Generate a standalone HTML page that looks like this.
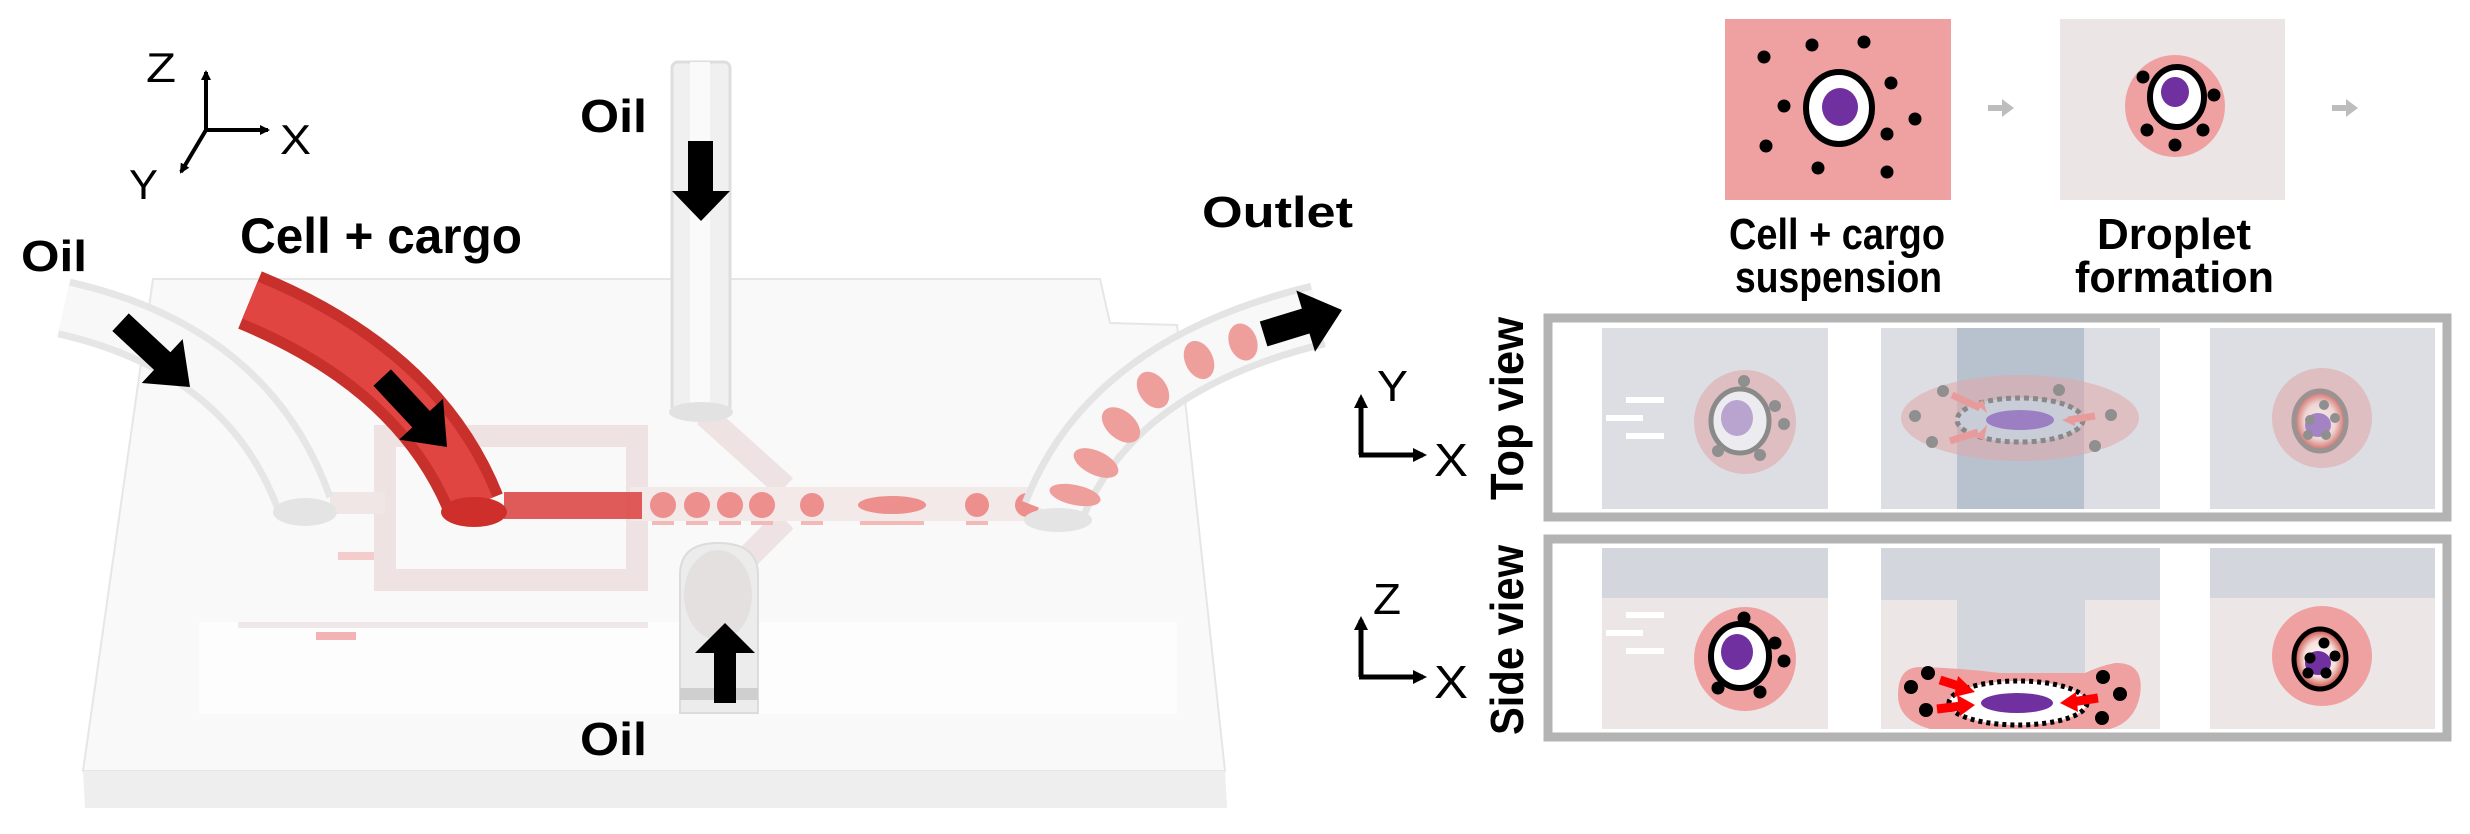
<!DOCTYPE html>
<html><head><meta charset="utf-8"><style>
html,body{margin:0;padding:0;background:#fff;}
svg{display:block;}
text{font-family:"Liberation Sans",sans-serif;font-weight:bold;fill:#000;}
.r{font-weight:normal;}
</style></head><body>
<svg width="2470" height="834" viewBox="0 0 2470 834" xmlns="http://www.w3.org/2000/svg">
<defs>
<marker id="ah" markerWidth="10" markerHeight="10" refX="8" refY="5" orient="auto" markerUnits="userSpaceOnUse"><path d="M0,0 L10,5 L0,10 z" fill="#000"/></marker>
<marker id="ah2" markerWidth="14" markerHeight="14" refX="10" refY="7" orient="auto" markerUnits="userSpaceOnUse"><path d="M0,0 L14,7 L0,14 z" fill="#000"/></marker>
<radialGradient id="rg"><stop offset="0" stop-color="#fff"/><stop offset="0.6" stop-color="#f7e0dc"/><stop offset="1" stop-color="#c9443a"/></radialGradient>
</defs>

<!-- ===== LEFT: chip ===== -->
<path d="M153,279 L1100,279 L1110,323 L1177,325 L1225,771 L83,771 Z" fill="#f9f9f9" stroke="#e6e6e6" stroke-width="2"/>
<path d="M83,771 L1225,771 L1227,808 L85,808 Z" fill="#eeeeee"/>
<rect x="199" y="622" width="978" height="92" fill="#fdfdfd"/>
<rect x="238" y="622" width="410" height="6" fill="#f0e8e8"/>
<rect x="316" y="632" width="40" height="8" fill="#f1b3b3"/>
<rect x="338" y="552" width="40" height="8" fill="#f3c0c0" opacity="0.8"/>

<rect x="385" y="436" width="252" height="144" fill="none" stroke="#efe2e2" stroke-width="22"/>
<rect x="330" y="492" width="55" height="22" fill="#f1e6e6"/>
<path d="M705,415 L785,487" stroke="#eee2e2" stroke-width="24"/>
<path d="M785,520 L735,570" stroke="#eee2e2" stroke-width="24"/>
<rect x="630" y="487" width="420" height="34" fill="#f3e9e9"/>
<rect x="504" y="492" width="138" height="27" fill="#d9403d" opacity="0.85"/>
<g fill="#ec8f8d">
<circle cx="663" cy="505" r="13"/><circle cx="697" cy="505" r="13"/><circle cx="730" cy="505" r="13"/><circle cx="762" cy="505" r="13"/>
<circle cx="812" cy="505" r="12"/><ellipse cx="892" cy="505" rx="34" ry="9"/><circle cx="977" cy="505" r="12"/><circle cx="1027" cy="505" r="12"/>
</g>
<g fill="#f2b9b7">
<rect x="652" y="521" width="22" height="4"/><rect x="686" y="521" width="22" height="4"/><rect x="719" y="521" width="22" height="4"/><rect x="751" y="521" width="22" height="4"/><rect x="801" y="521" width="22" height="4"/><rect x="860" y="521" width="64" height="4"/><rect x="966" y="521" width="22" height="4"/>
</g>

<path d="M64,308 Q250,350 305,506" fill="none" stroke="#e6e6e6" stroke-width="60"/>
<path d="M64,308 Q250,350 305,506" fill="none" stroke="#f8f8f8" stroke-width="46"/>
<ellipse cx="305" cy="512" rx="32" ry="14" fill="#e4e4e4"/>
<path d="M250,300 Q420,370 474,505" fill="none" stroke="#c8302c" stroke-width="62"/>
<path d="M250,300 Q420,370 474,505" fill="none" stroke="#e04542" stroke-width="40"/>
<ellipse cx="474" cy="512" rx="33" ry="15" fill="#cf2f2b"/>

<rect x="672" y="62" width="58" height="350" rx="6" fill="#f0f0f0" stroke="#dedede" stroke-width="3"/>
<rect x="690" y="62" width="20" height="350" fill="#fafafa"/>
<ellipse cx="701" cy="412" rx="32" ry="10" fill="#e2e2e2"/>
<path d="M680,713 L680,575 Q680,543 718,543 Q758,543 758,575 L758,713 Z" fill="#ececec" stroke="#dcdcdc" stroke-width="2"/>
<ellipse cx="718" cy="595" rx="34" ry="45" fill="#e4e0e0"/>
<rect x="680" y="688" width="78" height="12" fill="#cfcfcf"/>

<path d="M1053,513 Q1110,365 1318,315" fill="none" stroke="#e4e4e4" stroke-width="66"/>
<path d="M1053,513 Q1110,365 1318,315" fill="none" stroke="#f8f8f8" stroke-width="52"/>
<g fill="#ee9f9c">
<ellipse cx="1243" cy="342" rx="14" ry="19" transform="rotate(-20 1243 342)"/>
<ellipse cx="1199" cy="360" rx="14" ry="20" transform="rotate(-25 1199 360)"/>
<ellipse cx="1153" cy="390" rx="14" ry="20" transform="rotate(-35 1153 390)"/>
<ellipse cx="1121" cy="425" rx="14" ry="22" transform="rotate(-50 1121 425)"/>
<ellipse cx="1096" cy="463" rx="12" ry="24" transform="rotate(-65 1096 463)"/>
<ellipse cx="1075" cy="495" rx="10" ry="26" transform="rotate(-78 1075 495)"/>
</g>
<ellipse cx="1058" cy="520" rx="34" ry="12" fill="#e4e4e4"/>

<polygon points="688,141 713,141 713,191 730,191 701,221 672,191 688,191" fill="#000"/>
<polygon points="714,703 736,703 736,653 755,653 725,623 695,653 714,653" fill="#000"/>
<g transform="translate(190,387) rotate(43)"><polygon points="0,0 -38,-30 -38,-12 -95,-12 -95,12 -38,12 -38,30" fill="#000"/></g>
<g transform="translate(447,447) rotate(47)"><polygon points="0,0 -38,-30 -38,-12 -95,-12 -95,12 -38,12 -38,30" fill="#000"/></g>
<g transform="translate(1342,310) rotate(-17)"><polygon points="0,0 -38,-32 -38,-13 -82,-13 -82,13 -38,13 -38,32" fill="#000"/></g>

<line x1="206" y1="130" x2="206" y2="72" stroke="#000" stroke-width="4" marker-end="url(#ah)"/>
<line x1="206" y1="130" x2="268" y2="130" stroke="#000" stroke-width="4" marker-end="url(#ah)"/>
<line x1="206" y1="130" x2="181" y2="172" stroke="#000" stroke-width="4" marker-end="url(#ah)"/>
<text class="r" x="146" y="82" font-size="42" textLength="30" lengthAdjust="spacingAndGlyphs">Z</text>
<text class="r" x="280" y="154" font-size="42" textLength="31" lengthAdjust="spacingAndGlyphs">X</text>
<text class="r" x="129" y="199" font-size="42" textLength="29" lengthAdjust="spacingAndGlyphs">Y</text>

<text x="21" y="271" font-size="44" textLength="66" lengthAdjust="spacingAndGlyphs">Oil</text>
<text x="240" y="253" font-size="50" textLength="282" lengthAdjust="spacingAndGlyphs">Cell + cargo</text>
<text x="580" y="132" font-size="46" textLength="67" lengthAdjust="spacingAndGlyphs">Oil</text>
<text x="580" y="755" font-size="46" textLength="67" lengthAdjust="spacingAndGlyphs">Oil</text>
<text x="1202" y="227" font-size="44" textLength="151" lengthAdjust="spacingAndGlyphs">Outlet</text>

<!-- ===== RIGHT ===== -->
<rect x="1725" y="19" width="226" height="181" fill="#eea1a0"/>
<ellipse cx="1839" cy="108" rx="33" ry="36" fill="#fff" stroke="#000" stroke-width="6"/>
<ellipse cx="1840" cy="107" rx="18" ry="19" fill="#7030a0"/>
<g fill="#000">
<circle cx="1764" cy="57" r="6.5"/><circle cx="1812" cy="45" r="6.5"/><circle cx="1864" cy="42" r="6.5"/><circle cx="1891" cy="83" r="6.5"/><circle cx="1784" cy="106" r="6.5"/><circle cx="1915" cy="119" r="6.5"/><circle cx="1887" cy="134" r="6.5"/><circle cx="1766" cy="146" r="6.5"/><circle cx="1818" cy="168" r="6.5"/><circle cx="1887" cy="172" r="6.5"/>
</g>
<rect x="2060" y="19" width="225" height="181" fill="#ece5e5"/>
<ellipse cx="2175" cy="106" rx="50" ry="51" fill="#eea1a0"/>
<ellipse cx="2177" cy="97" rx="27" ry="30" fill="#fff" stroke="#000" stroke-width="6"/>
<ellipse cx="2175" cy="92" rx="14" ry="15" fill="#7030a0"/>
<g fill="#000"><circle cx="2143" cy="77" r="6.5"/><circle cx="2214" cy="95" r="6.5"/><circle cx="2147" cy="130" r="6.5"/><circle cx="2203" cy="130" r="6.5"/><circle cx="2175" cy="145" r="6.5"/></g>

<g fill="#bdbdbd">
<polygon points="1988,105 2002,105 2002,99 2014,108 2002,117 2002,111 1988,111"/>
<polygon points="2332,105 2346,105 2346,99 2358,108 2346,117 2346,111 2332,111"/>
<polygon points="1841,418 1855,418 1855,412 1867,421 1855,430 1855,424 1841,424"/>
<polygon points="2174,418 2188,418 2188,412 2200,421 2188,430 2188,424 2174,424"/>
<polygon points="1841,635 1855,635 1855,629 1867,638 1855,647 1855,641 1841,641"/>
<polygon points="2174,635 2188,635 2188,629 2200,638 2188,647 2188,641 2174,641"/>
</g>

<text x="1729" y="249" font-size="44" textLength="216" lengthAdjust="spacingAndGlyphs">Cell + cargo</text>
<text x="1735" y="292" font-size="44" textLength="207" lengthAdjust="spacingAndGlyphs">suspension</text>
<text x="2097" y="249" font-size="44" textLength="154" lengthAdjust="spacingAndGlyphs">Droplet</text>
<text x="2075" y="292" font-size="44" textLength="199" lengthAdjust="spacingAndGlyphs">formation</text>

<rect x="1548" y="318" width="899" height="199" fill="#fff" stroke="#b3b3b3" stroke-width="9"/>
<rect x="1602" y="328" width="226" height="181" fill="#dcdee3"/>
<rect x="1881" y="328" width="279" height="181" fill="#dcdee3"/>
<rect x="1957" y="328" width="127" height="181" fill="#b8c2cf"/>
<rect x="2210" y="328" width="225" height="181" fill="#dcdee3"/>
<g stroke="#fff" stroke-width="6"><line x1="1626" y1="400" x2="1664" y2="400"/><line x1="1606" y1="418" x2="1643" y2="418"/><line x1="1626" y1="436" x2="1664" y2="436"/></g>
<ellipse cx="1745" cy="422" rx="51" ry="52" fill="#e0a8aa" opacity="0.6"/>
<ellipse cx="1740" cy="421" rx="29" ry="32" fill="#ececf0" stroke="#8a8a8a" stroke-width="5"/>
<ellipse cx="1737" cy="418" rx="16" ry="18" fill="#b9a3cf"/>
<g fill="#8f8f8f"><circle cx="1744" cy="381" r="6"/><circle cx="1775" cy="406" r="6"/><circle cx="1784" cy="424" r="6"/><circle cx="1718" cy="451" r="6"/><circle cx="1760" cy="455" r="6"/></g>
<ellipse cx="2020" cy="418" rx="119" ry="43" fill="#e0a8aa" opacity="0.55"/>
<ellipse cx="2020" cy="420" rx="63" ry="22" fill="#c9cdd8" stroke="#888" stroke-width="5" stroke-dasharray="5,4"/>
<ellipse cx="2020" cy="420" rx="34" ry="10" fill="#9b7fc2"/>
<g fill="#e79b9b"><polygon points="1976,404 1987,413 1983,400"/><polygon points="1975,437 1987,425 1984,440"/><polygon points="2062,420 2075,415 2075,426"/></g>
<g stroke="#e79b9b" stroke-width="7"><line x1="1952" y1="395" x2="1980" y2="408"/><line x1="1950" y1="441" x2="1978" y2="432"/><line x1="2068" y1="420" x2="2095" y2="416"/></g>
<g fill="#8f8f8f"><circle cx="1943" cy="391" r="6"/><circle cx="1915" cy="416" r="6"/><circle cx="1932" cy="442" r="6"/><circle cx="2059" cy="390" r="6"/><circle cx="2111" cy="415" r="6"/><circle cx="2095" cy="446" r="6"/></g>
<ellipse cx="2322" cy="418" rx="50" ry="50" fill="#e0a8aa" opacity="0.6"/>
<ellipse cx="2320" cy="421" rx="26" ry="30" fill="url(#rg)" opacity="0.7" stroke="#808080" stroke-width="5"/>
<ellipse cx="2318" cy="425" rx="13" ry="12" fill="#a383c4"/>
<g fill="#8f8f8f"><circle cx="2324" cy="405" r="5"/><circle cx="2310" cy="420" r="5"/><circle cx="2308" cy="435" r="5"/><circle cx="2326" cy="435" r="5"/><circle cx="2335" cy="418" r="5"/></g>

<rect x="1548" y="539" width="899" height="198" fill="#fff" stroke="#b3b3b3" stroke-width="9"/>
<rect x="1602" y="548" width="226" height="181" fill="#ece6e6"/>
<rect x="1602" y="548" width="226" height="50" fill="#d3d6dc"/>
<rect x="1881" y="548" width="279" height="181" fill="#ece6e6"/>
<rect x="1881" y="548" width="279" height="52" fill="#d3d6dc"/>
<rect x="1957" y="548" width="128" height="125" fill="#d3d6dc"/>
<rect x="2210" y="548" width="225" height="181" fill="#ece6e6"/>
<rect x="2210" y="548" width="225" height="50" fill="#d3d6dc"/>
<g stroke="#fff" stroke-width="6"><line x1="1626" y1="615" x2="1664" y2="615"/><line x1="1606" y1="633" x2="1643" y2="633"/><line x1="1626" y1="651" x2="1664" y2="651"/></g>
<ellipse cx="1745" cy="659" rx="51" ry="52" fill="#eea1a0"/>
<ellipse cx="1740" cy="656" rx="29" ry="32" fill="#fff" stroke="#000" stroke-width="6"/>
<ellipse cx="1737" cy="652" rx="16" ry="18" fill="#7030a0"/>
<g fill="#000"><circle cx="1744" cy="618" r="6.5"/><circle cx="1775" cy="643" r="6.5"/><circle cx="1784" cy="661" r="6.5"/><circle cx="1718" cy="688" r="6.5"/><circle cx="1760" cy="692" r="6.5"/></g>
<path d="M1920,667 Q1960,668 2000,673 L2085,673 Q2100,666 2115,663 Q2145,662 2140,695 Q2135,722 2110,729 L1930,729 Q1898,720 1898,695 Q1898,667 1920,667 Z" fill="#eea1a0"/>
<ellipse cx="2018" cy="703" rx="69" ry="22" fill="#fff" stroke="#000" stroke-width="5" stroke-dasharray="4,4"/>
<ellipse cx="2017" cy="703" rx="36" ry="10" fill="#7030a0"/>
<g stroke="#f00" stroke-width="9"><line x1="1940" y1="680" x2="1962" y2="687"/><line x1="1937" y1="709" x2="1962" y2="706"/><line x1="2098" y1="698" x2="2072" y2="702"/></g>
<g fill="#f00"><polygon points="1975,692 1958,676 1954,697"/><polygon points="1975,705 1957,695 1960,716"/><polygon points="2060,703 2076,692 2078,712"/></g>
<g fill="#000"><circle cx="1928" cy="673" r="7"/><circle cx="1911" cy="687" r="7"/><circle cx="1926" cy="710" r="7"/><circle cx="2103" cy="677" r="7"/><circle cx="2120" cy="694" r="7"/><circle cx="2102" cy="718" r="7"/></g>
<ellipse cx="2322" cy="656" rx="50" ry="50" fill="#eea1a0"/>
<ellipse cx="2320" cy="659" rx="26" ry="30" fill="url(#rg)" stroke="#000" stroke-width="5"/>
<ellipse cx="2318" cy="663" rx="13" ry="12" fill="#7030a0"/>
<g fill="#000"><circle cx="2324" cy="643" r="5.5"/><circle cx="2310" cy="658" r="5.5"/><circle cx="2308" cy="673" r="5.5"/><circle cx="2326" cy="673" r="5.5"/><circle cx="2335" cy="656" r="5.5"/></g>

<line x1="1361" y1="455" x2="1361" y2="398" stroke="#000" stroke-width="5" marker-end="url(#ah2)"/>
<line x1="1359" y1="455" x2="1423" y2="455" stroke="#000" stroke-width="5" marker-end="url(#ah2)"/>
<text class="r" x="1377" y="401" font-size="44" textLength="31" lengthAdjust="spacingAndGlyphs">Y</text>
<text class="r" x="1434" y="476" font-size="46" textLength="34" lengthAdjust="spacingAndGlyphs">X</text>
<line x1="1361" y1="677" x2="1361" y2="620" stroke="#000" stroke-width="5" marker-end="url(#ah2)"/>
<line x1="1359" y1="677" x2="1423" y2="677" stroke="#000" stroke-width="5" marker-end="url(#ah2)"/>
<text class="r" x="1373" y="614" font-size="44" textLength="28" lengthAdjust="spacingAndGlyphs">Z</text>
<text class="r" x="1434" y="698" font-size="46" textLength="34" lengthAdjust="spacingAndGlyphs">X</text>

<text transform="translate(1523,500) rotate(-90)" font-size="46" textLength="183" lengthAdjust="spacingAndGlyphs">Top view</text>
<text transform="translate(1523,735) rotate(-90)" font-size="46" textLength="190" lengthAdjust="spacingAndGlyphs">Side view</text>
</svg>
</body></html>
